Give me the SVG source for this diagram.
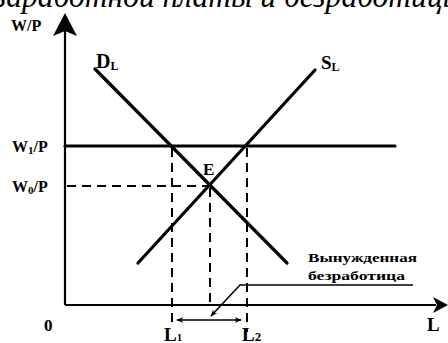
<svg xmlns="http://www.w3.org/2000/svg" width="448" height="343" viewBox="0 0 448 343">
<defs>
<style>
.lbl{font-family:"Liberation Serif","Times New Roman",serif;font-weight:bold;fill:#000}
.ax{stroke:#000;stroke-width:2.2;fill:none}
.crv{stroke:#000;stroke-width:3.2;fill:none;stroke-linecap:round}
.dash{stroke:#000;stroke-width:2;fill:none;stroke-dasharray:9,6}
.thin{stroke:#000;stroke-width:1.5;fill:none}
</style>
<marker id="ah" viewBox="0 0 10 10" refX="9" refY="5" markerWidth="7" markerHeight="7" orient="auto-start-reverse" markerUnits="userSpaceOnUse">
<path d="M0,1 L10,5 L0,9 L3,5 Z" fill="#000"/>
</marker>
</defs>
<rect width="448" height="343" fill="#fff"/>
<text x="-6" y="7" font-family="Liberation Serif,'Times New Roman',serif" font-style="italic" font-size="33" textLength="470" lengthAdjust="spacingAndGlyphs">заработной платы и безработицы</text>

<g id="axes">
<line class="ax" x1="65" y1="305" x2="65" y2="30"/>
<path d="M65,13 L77,36 L65,31 L53,36 Z" fill="#000"/>
<line class="ax" x1="65" y1="305" x2="436" y2="305"/>
<path d="M448,305 L433,297 L437,305 L433,313 Z" fill="#000"/>
</g>

<g id="connectors">
<line class="crv" x1="65" y1="146" x2="395" y2="146"/>
<line class="dash" x1="67" y1="186" x2="210" y2="186"/>
<line class="dash" x1="172" y1="148" x2="172" y2="322"/>
<line class="dash" x1="247" y1="148" x2="247" y2="332"/>
<line class="dash" x1="210" y1="188" x2="210" y2="305"/>
<polyline class="thin" points="413,285 240,285 211,316" marker-end="url(#ah)"/>
<line class="thin" x1="177" y1="320" x2="241" y2="320" marker-start="url(#ah)" marker-end="url(#ah)"/>
</g>

<g id="demand">
<line class="crv" x1="95" y1="69" x2="287" y2="263"/>
<text class="lbl" x="96" y="68" font-size="20">D<tspan font-size="12" dy="2">L</tspan></text>
</g>
<g id="supply">
<line class="crv" x1="138" y1="263" x2="315" y2="70"/>
<text class="lbl" x="321" y="69" font-size="19">S<tspan font-size="12" dy="2">L</tspan></text>
</g>
<g id="equilibrium">
<text class="lbl" x="203" y="175" font-size="17">E</text>
</g>

<g id="labels">
<text class="lbl" x="11" y="31" font-size="16">W/P</text>
<text class="lbl" x="12" y="152" font-size="16">W<tspan font-size="11" dy="2">1</tspan><tspan dy="-2">/P</tspan></text>
<text class="lbl" x="12" y="192" font-size="16">W<tspan font-size="11" dy="2">0</tspan><tspan dy="-2">/P</tspan></text>
<text class="lbl" x="44" y="331" font-size="17">0</text>
<text class="lbl" x="427" y="331" font-size="19">L</text>
<text class="lbl" x="164" y="341" font-size="19">L<tspan font-size="11">1</tspan></text>
<text class="lbl" x="242" y="341" font-size="19">L<tspan font-size="13">2</tspan></text>
</g>

<g id="note">
<text class="lbl" x="308" y="262" font-size="12" textLength="109" lengthAdjust="spacingAndGlyphs">Вынужденная</text>
<text class="lbl" x="308" y="280" font-size="12" textLength="97" lengthAdjust="spacingAndGlyphs">безработица</text>
</g>
</svg>
